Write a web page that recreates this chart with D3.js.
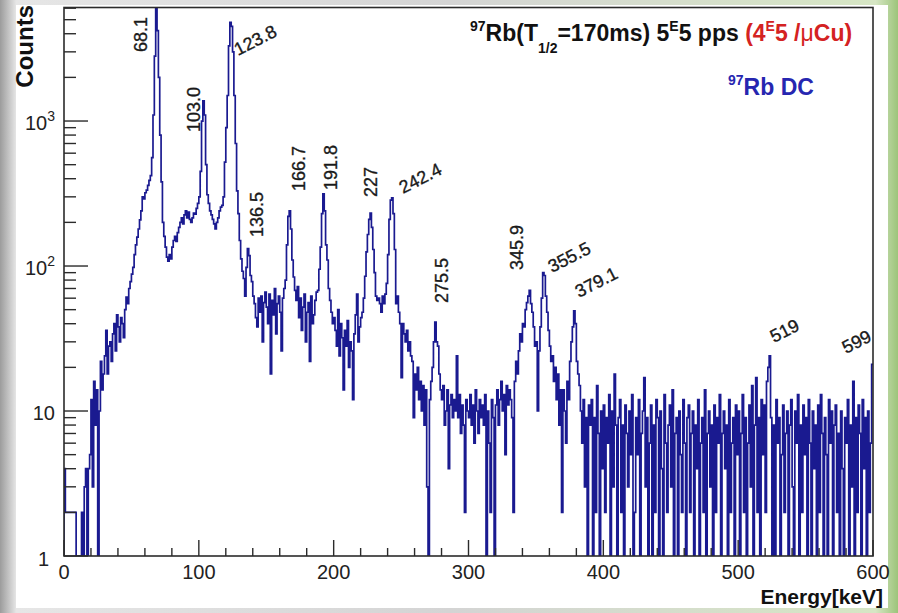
<!DOCTYPE html>
<html>
<head>
<meta charset="utf-8">
<script src="https://cdn.jsdelivr.net/npm/d3@7"></script>
<style>
  html, body { margin: 0; padding: 0; background: #fff; overflow: hidden; }
  svg { display: block; }
  text { font-family: "Liberation Sans", Arial, Helvetica, sans-serif; }
</style>
</head>
<body>
<svg id="chart" width="898" height="613"></svg>
<script>
// 97Rb decay gamma spectrum, counts per 1 keV bin, 0-600 keV
const binWidth = 1;
const counts000 = [
  4, 2, 2, 2, 2, 2, 2, 2, 2, 0,
  0, 0, 0, 2, 0, 3, 4, 1, 4, 5,
  12, 3, 16, 8, 14, 0, 10, 22, 14, 18,
  24, 36, 18, 28, 30, 22, 34, 40, 26, 46,
  38, 30, 44, 40, 32, 50, 61, 55, 70, 78,
  88, 98, 120, 140, 158, 180, 208, 240, 300, 290,
  320, 334, 360, 390, 420, 560, 1100, 2800, 5950, 4200,
  2000, 800, 380, 200, 160, 135, 115, 108, 120, 112,
  135, 150, 160, 148, 170, 185, 200, 215, 195, 225,
  240, 215, 235, 210, 200, 215, 232, 228, 250, 270
];
const counts100 = [
  300, 450, 1000, 1380, 1100, 500, 310, 270, 240, 225,
  210, 195, 180, 200, 215, 240, 255, 262, 300, 520,
  900, 1500, 3300, 4800, 4500, 3000, 1500, 700, 330, 230,
  150, 112, 92, 82, 62, 98, 132, 118, 86, 78,
  62, 55, 44, 38, 60, 48, 62, 30, 56, 66,
  52, 40, 64, 18, 58, 46, 70, 34, 55, 62,
  48, 26, 60, 70, 80, 140, 220, 240, 180, 110,
  84, 68, 58, 72, 44, 60, 36, 52, 64, 30,
  48, 56, 22, 62, 40, 46, 58, 66, 68, 95,
  135, 230, 315, 240, 140, 110, 70, 58, 48, 40
];
const counts200 = [
  44, 36, 28, 50, 24, 40, 32, 14, 36, 28,
  42, 20, 30, 26, 12, 34, 46, 64, 30, 38,
  44, 48, 60, 85, 125, 165, 210, 232, 185, 130,
  90, 62, 58, 60, 55, 48, 62, 55, 64, 76,
  120, 210, 285, 295, 230, 130, 55, 62, 48, 40,
  17, 40, 34, 30, 36, 26, 30, 24, 22, 9,
  18, 14, 20, 12, 16, 10, 15, 8, 14, 3,
  0, 12, 16, 20, 30, 41, 30, 28, 18, 14,
  12, 15, 8, 10, 14, 4, 11, 13, 9, 12,
  10, 24, 9, 13, 7, 11, 8, 2, 12, 10
];
const counts300 = [
  9, 13, 8, 11, 6, 14, 10, 7, 12, 9,
  11, 8, 13, 0, 10, 6, 2, 12, 9, 0,
  11, 14, 8, 12, 16, 10, 13, 5, 15, 11,
  14, 12, 9, 2, 16, 22, 18, 26, 34, 30,
  40, 38, 50, 56, 62, 68, 55, 48, 38, 28,
  30, 10, 26, 38, 60, 90, 86, 62, 48, 36,
  28, 22, 24, 16, 20, 12, 18, 8, 14, 2,
  14, 10, 6, 16, 12, 22, 30, 38, 49, 40,
  22, 18, 15, 10, 6, 12, 3, 9, 0, 11,
  8, 12, 1, 9, 2, 15, 7, 0, 10, 4
];
const counts400 = [
  11, 2, 9, 6, 13, 0, 10, 3, 18, 8,
  1, 9, 12, 2, 8, 0, 11, 7, 3, 10,
  5, 13, 0, 2, 9, 5, 12, 1, 7, 10,
  17, 3, 9, 0, 6, 11, 1, 8, 2, 12,
  9, 0, 10, 4, 1, 13, 6, 2, 8, 11,
  3, 14, 0, 7, 9, 1, 10, 5, 2, 12,
  6, 0, 9, 11, 2, 7, 10, 1, 8, 4,
  12, 0, 6, 9, 2, 14, 1, 7, 10, 3,
  8, 0, 11, 2, 9, 6, 13, 1, 7, 10,
  4, 8, 0, 12, 2, 6, 9, 1, 11, 5
];
const counts500 = [
  10, 0, 7, 13, 2, 9, 1, 6, 11, 3,
  15, 0, 8, 17, 2, 9, 1, 12, 5, 11,
  2, 16, 20, 24, 9, 0, 8, 1, 12, 6,
  9, 0, 5, 11, 2, 7, 10, 1, 8, 12,
  3, 0, 10, 6, 13, 1, 8, 2, 11, 5,
  9, 0, 12, 6, 1, 10, 4, 8, 0, 11,
  2, 13, 7, 0, 9, 5, 1, 12, 6, 10,
  0, 8, 11, 2, 7, 1, 10, 4, 0, 9,
  6, 12, 1, 8, 3, 16, 0, 9, 2, 11,
  7, 0, 12, 4, 9, 1, 10, 2, 6, 21
];

// Axis ticks and labels
const xTickValues = [0, 100, 200, 300, 400, 500, 600];
const yDecades = [1, 10, 100, 1000];
const yDecadeLabels = [["1", ""], ["10", ""], ["10", "2"], ["10", "3"]];

// Peak energy annotations (keV)
const peakLabels = ["68.1", "103.0", "123.8", "136.5", "166.7", "191.8", "227",
                    "242.4", "275.5", "345.9", "355.5", "379.1", "519", "599"];

// ---------------------------------------------------------------
const counts = [].concat(counts000, counts100, counts200, counts300, counts400, counts500);

const W = 898, H = 613;
const frame = { left: 64, right: 873, top: 7.5, bottom: 556 };

const svg = d3.select("#chart");
const defs = svg.append("defs");

// page backdrop with soft border
const bg = defs.append("linearGradient").attr("id", "bgGrad").attr("x1", 0).attr("x2", 1).attr("y1", 0).attr("y2", 0);
[[0, "#9c9c9c"], [0.018, "#e6e6e6"], [0.5, "#d4d4d4"], [0.975, "#d6e6c4"], [1, "#9cc47a"]]
  .forEach(([o, c]) => bg.append("stop").attr("offset", o).attr("stop-color", c));
svg.append("rect").attr("width", W).attr("height", H).attr("fill", "url(#bgGrad)");
svg.append("rect").attr("x", 16).attr("y", 5).attr("width", 872).attr("height", 603).attr("fill", "#ffffff");

defs.append("clipPath").attr("id", "frameClip")
  .append("rect")
  .attr("x", frame.left).attr("y", frame.top)
  .attr("width", frame.right - frame.left).attr("height", frame.bottom - frame.top);

const x = d3.scaleLinear().domain([0, 600]).range([frame.left, frame.right]);
const y = d3.scaleLog().domain([1, 6067]).range([frame.bottom, frame.top]);

// histogram outline
const pts = [[x(0), y(1)]];
counts.forEach((c, i) => pts.push([x(i * binWidth), y(Math.max(c, 1))]));
pts.push([x(counts.length * binWidth), y(Math.max(counts[counts.length - 1], 1))]);

svg.append("path")
  .attr("clip-path", "url(#frameClip)")
  .attr("d", d3.line().curve(d3.curveStepAfter)(pts))
  .attr("fill", "none")
  .attr("stroke", "#1a1a90")
  .attr("stroke-width", 1.7)
  .attr("stroke-linejoin", "miter");

// frame
const axisColor = "#2b2b2b";
svg.append("rect")
  .attr("x", frame.left).attr("y", frame.top)
  .attr("width", frame.right - frame.left).attr("height", frame.bottom - frame.top)
  .attr("fill", "none").attr("stroke", axisColor).attr("stroke-width", 1.6);

// x ticks
const gx = svg.append("g");
d3.range(0, 601, 20).forEach(v => {
  const major = v % 100 === 0;
  gx.append("line")
    .attr("x1", x(v)).attr("x2", x(v))
    .attr("y1", frame.bottom).attr("y2", frame.bottom - (major ? 16 : 8))
    .attr("stroke", axisColor).attr("stroke-width", 1.4);
});
xTickValues.forEach(v => {
  gx.append("text")
    .attr("x", x(v)).attr("y", 579)
    .attr("text-anchor", "middle")
    .attr("font-size", 20).attr("fill", "#222")
    .text(v);
});

// y ticks (log)
const gy = svg.append("g");
y.ticks().forEach(v => {
  const major = yDecades.includes(v);
  gy.append("line")
    .attr("x1", frame.left).attr("x2", frame.left + (major ? 24 : 12))
    .attr("y1", y(v)).attr("y2", y(v))
    .attr("stroke", axisColor).attr("stroke-width", 1.4);
});
yDecades.forEach((v, i) => {
  const [base, exp] = yDecadeLabels[i];
  const t = gy.append("text")
    .attr("x", v === 1 ? 49 : 55)
    .attr("y", y(v) + (v === 1 ? 10 : 9))
    .attr("text-anchor", "end")
    .attr("font-size", 20).attr("fill", "#222");
  t.append("tspan").text(base);
  if (exp) t.append("tspan").attr("font-size", 14).attr("dy", -9).text(exp);
});

// axis titles
svg.append("text")
  .attr("transform", "translate(33,5) rotate(-90)")
  .attr("text-anchor", "end")
  .attr("font-size", 24).attr("font-weight", "bold").attr("fill", "#111")
  .text("Counts");
svg.append("text")
  .attr("x", 883).attr("y", 604)
  .attr("text-anchor", "end")
  .attr("font-size", 21).attr("font-weight", "bold").attr("fill", "#111")
  .text("Energy[keV]");

// title line
const title = svg.append("text")
  .attr("x", 470).attr("y", 41)
  .attr("font-size", 23).attr("font-weight", "bold").attr("fill", "#111");
title.append("tspan").attr("font-size", 14).attr("dy", -10).text("97");
title.append("tspan").attr("dy", 10).text("Rb(T");
title.append("tspan").attr("font-size", 14).attr("dy", 12).text("1/2");
title.append("tspan").attr("dy", -12).text("=170ms) 5");
title.append("tspan").attr("font-size", 14).attr("dy", -10).text("E");
title.append("tspan").attr("dy", 10).text("5 pps ");
title.append("tspan").attr("fill", "#d42222").text("(4");
title.append("tspan").attr("fill", "#d42222").attr("font-size", 14).attr("dy", -10).text("E");
title.append("tspan").attr("fill", "#d42222").attr("dy", 10).text("5 /");
title.append("tspan").attr("fill", "#d42222").attr("font-weight", "normal").text("\u03bc");
title.append("tspan").attr("fill", "#d42222").text("Cu)");

const src = svg.append("text")
  .attr("x", 728).attr("y", 95)
  .attr("font-size", 23).attr("font-weight", "bold").attr("fill", "#2626b0");
src.append("tspan").attr("font-size", 14).attr("dy", -10).text("97");
src.append("tspan").attr("dy", 10).text("Rb DC");

// peak annotations: anchor point (baseline start) and rotation
const peakLabelLayout = [
  [147, 52, -90], [200, 132, -90], [238, 56, -27], [263, 237, -90],
  [305, 191, -90], [337, 190, -90], [377, 197, -90], [403, 194, -27],
  [448, 303, -90], [523, 270, -90], [552, 273, -27], [579, 298, -27],
  [774, 343, -27], [846, 354, -27]
];
const gl = svg.append("g");
peakLabels.forEach((txt, i) => {
  const [px, py, rot] = peakLabelLayout[i];
  gl.append("text")
    .attr("transform", `translate(${px},${py}) rotate(${rot})`)
    .attr("font-size", 18).attr("fill", "#1a1a1a")
    .attr("stroke", "#1a1a1a").attr("stroke-width", 0.35)
    .text(txt);
});
</script>
</body>
</html>
